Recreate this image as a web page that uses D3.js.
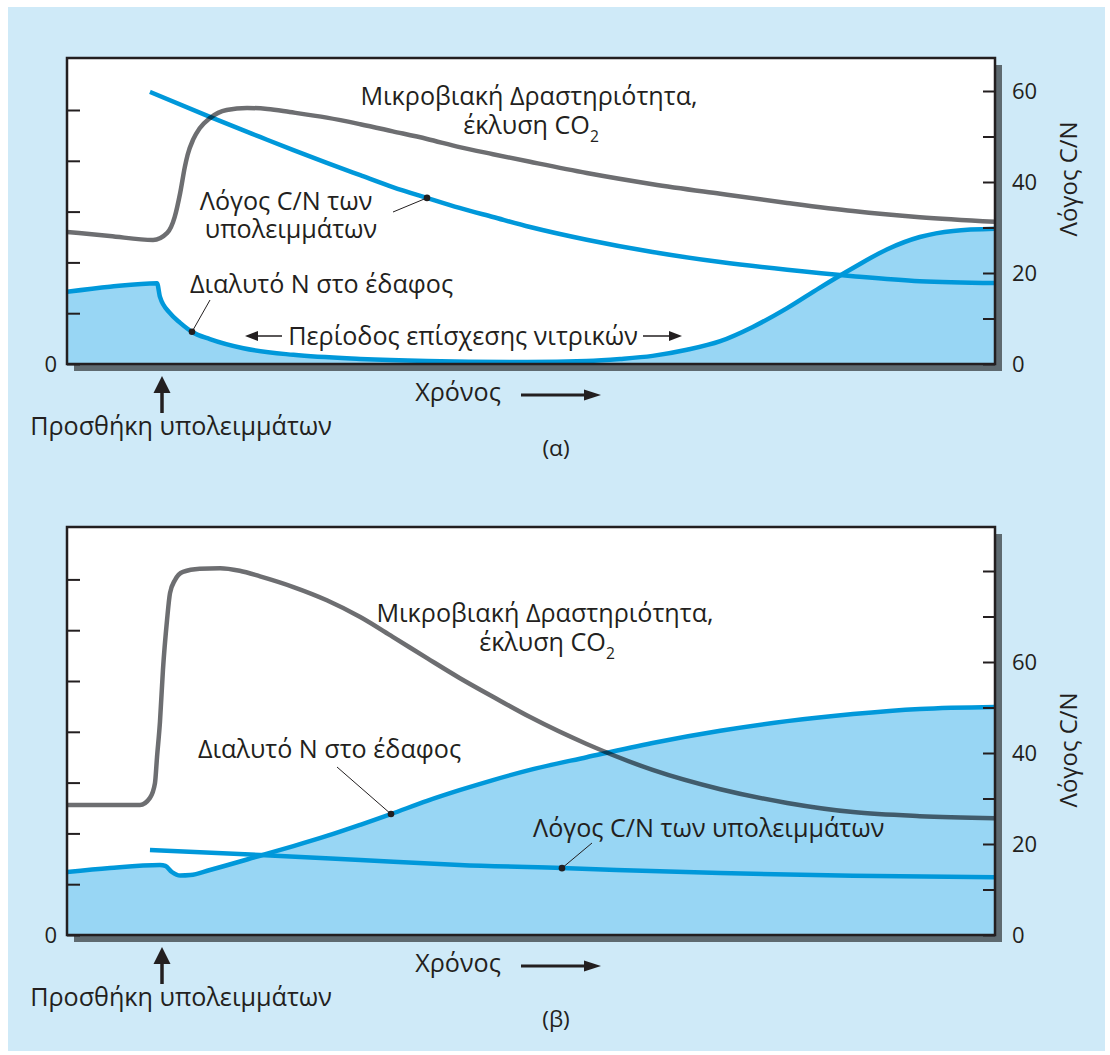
<!DOCTYPE html>
<html>
<head>
<meta charset="utf-8">
<script src="https://cdn.jsdelivr.net/npm/d3@7"></script>
<style>
  body { margin: 0; background: #fff; }
  svg text { font-family: "Open Sans", sans-serif; fill: #231f20; }
</style>
</head>
<body>
<svg id="chart" width="1110" height="1055"></svg>
<script>
// Time runs 0..100 across each plot. Left axis is unitless (activity, soluble N),
// right axis is the C/N ratio.

// ---- panel (α) ----
const activityTimeA = [0, 4.6, 9.27, 10.8, 11.6, 12.2, 12.7, 13.0, 13.6, 14.3, 15.4, 17.2, 19.4, 21.6, 24.0, 28.0, 31.6, 35.1, 38.8, 42.3, 45.9, 49.9, 56.0, 63.1, 70.4, 77.6, 84.7, 91.9, 100];
const activityA = [2.60, 2.52, 2.44, 2.58, 2.89, 3.37, 3.88, 4.12, 4.42, 4.64, 4.84, 5.00, 5.04, 5.02, 4.96, 4.85, 4.72, 4.58, 4.43, 4.27, 4.13, 3.98, 3.76, 3.54, 3.35, 3.17, 3.01, 2.89, 2.80];
const cnTimeA = [8.94, 15.4, 20.8, 24.4, 28.0, 31.6, 35.1, 38.8, 42.3, 45.9, 49.9, 56.0, 63.1, 70.4, 77.6, 84.7, 91.9, 100];
const cnA = [59.8, 54.3, 49.9, 47.0, 44.2, 41.5, 38.9, 36.5, 34.3, 32.3, 30.1, 27.3, 24.6, 22.4, 20.7, 19.3, 18.2, 17.8];
const nitrogenTimeA = [0, 4.63, 9.70, 10.02, 11.1, 12.2, 13.5, 15.4, 19.0, 24.4, 31.6, 38.8, 49.6, 56.0, 59.6, 63.1, 66.8, 70.4, 73.9, 77.6, 81.1, 84.7, 88.4, 91.9, 95.5, 100];
const nitrogenA = [1.42, 1.52, 1.59, 1.32, 1.00, 0.81, 0.63, 0.49, 0.31, 0.18, 0.10, 0.06, 0.04, 0.06, 0.10, 0.16, 0.28, 0.45, 0.73, 1.10, 1.50, 1.89, 2.26, 2.50, 2.62, 2.66];

// ---- panel (β) ----
const activityTimeB = [0, 7.87, 8.94, 9.48, 9.70, 10.02, 10.34, 10.78, 11.10, 11.64, 12.5, 14.3, 16.5, 18.6, 20.8, 24.4, 28.0, 31.6, 35.1, 38.8, 42.3, 45.9, 49.9, 56.0, 63.1, 70.4, 77.6, 84.7, 91.9, 100];
const activityB = [2.56, 2.56, 2.70, 2.99, 3.50, 4.20, 5.22, 6.20, 6.73, 6.99, 7.15, 7.21, 7.22, 7.17, 7.06, 6.85, 6.59, 6.26, 5.87, 5.45, 5.06, 4.69, 4.29, 3.76, 3.25, 2.87, 2.60, 2.42, 2.34, 2.30];
const cnTimeB = [8.94, 20.8, 31.6, 42.3, 53.3, 70.4, 84.7, 100];
const cnB = [18.7, 17.6, 16.5, 15.4, 14.7, 13.6, 13.0, 12.7];
const nitrogenTimeB = [0, 4.63, 10.02, 10.6, 11.3, 12.2, 13.3, 15.4, 20.8, 24.4, 28.0, 31.6, 34.9, 38.8, 42.3, 45.9, 49.9, 56.0, 63.1, 70.4, 77.6, 84.7, 91.9, 100];
const nitrogenB = [1.24, 1.32, 1.38, 1.36, 1.24, 1.17, 1.18, 1.28, 1.56, 1.75, 1.95, 2.17, 2.38, 2.64, 2.85, 3.05, 3.25, 3.50, 3.78, 4.02, 4.21, 4.35, 4.45, 4.49];

// ticks
const leftTicksA = [0, 1, 2, 3, 4, 5];
const leftTicksB = [0, 1, 2, 3, 4, 5, 6, 7];
const rightTicksA = [0, 10, 20, 30, 40, 50, 60];
const rightTicksB = [0, 10, 20, 30, 40, 50, 60, 70, 80];
const rightLabels = [0, 20, 40, 60];

const colors = {
  bg: "#cfeaf8",
  fill: "#98d6f4",
  blue: "#0098da",
  gray: "#6d6e71",
  shadow: "#5e6a70",
  ink: "#231f20"
};

const svg = d3.select("#chart");

// outer light blue background
svg.append("rect")
  .attr("x", 8).attr("y", 7)
  .attr("width", 1097).attr("height", 1044)
  .attr("fill", colors.bg);

// pick one font size for all annotations from a reference label width
const probe = svg.append("text").attr("font-size", 100).text("Προσθήκη υπολειμμάτων");
const fontSize = 100 * 302 / probe.node().getComputedTextLength();
probe.remove();

const zip = (ts, vs) => ts.map((t, i) => ({ t, v: vs[i] }));

// find the point on a path at a given x
function pointAtX(node, x) {
  let lo = 0, hi = node.getTotalLength();
  for (let i = 0; i < 40; i++) {
    const mid = (lo + hi) / 2;
    if (node.getPointAtLength(mid).x < x) lo = mid; else hi = mid;
  }
  return node.getPointAtLength(lo);
}

// filled triangle arrow from (x1,y1) to (x2,y2)
function arrow(g, x1, y1, x2, y2, headLen, headW, width) {
  const a = Math.atan2(y2 - y1, x2 - x1);
  const bx = x2 - headLen * Math.cos(a), by = y2 - headLen * Math.sin(a);
  g.append("line")
    .attr("x1", x1).attr("y1", y1).attr("x2", bx).attr("y2", by)
    .attr("stroke", colors.ink).attr("stroke-width", width);
  const px = Math.sin(a) * headW / 2, py = -Math.cos(a) * headW / 2;
  g.append("path")
    .attr("d", `M${x2},${y2}L${bx + px},${by + py}L${bx - px},${by - py}Z`)
    .attr("fill", colors.ink);
}

function label(g, x, y, str, anchor) {
  return g.append("text")
    .attr("x", x).attr("y", y)
    .attr("text-anchor", anchor || "start")
    .attr("font-size", fontSize)
    .text(str);
}

function co2Label(g, x, y, anchor) {
  const t = g.append("text")
    .attr("x", x).attr("y", y)
    .attr("text-anchor", anchor)
    .attr("font-size", fontSize);
  t.append("tspan").text("έκλυση CO");
  t.append("tspan").attr("font-size", fontSize * 0.62).attr("dy", 8).text("2");
}

function drawPanel(cfg, id) {
  const left = 67, right = 995;
  const { top, bottom } = cfg;

  const x = d3.scaleLinear().domain([0, 100]).range([left, right]);
  const yLeft = d3.scaleLinear().domain([0, (bottom - top) / 50.8]).range([bottom, top]);
  const yRight = d3.scaleLinear().domain([0, (bottom - top) / 4.55]).range([bottom, top]);

  const g = svg.append("g");

  // drop shadow + white plot
  g.append("rect")
    .attr("x", left + 7).attr("y", top + 7)
    .attr("width", right - left).attr("height", bottom - top)
    .attr("fill", colors.shadow);
  g.append("rect")
    .attr("x", left).attr("y", top)
    .attr("width", right - left).attr("height", bottom - top)
    .attr("fill", "#fff");

  svg.append("clipPath").attr("id", "clip" + id)
    .append("rect")
    .attr("x", left).attr("y", top)
    .attr("width", right - left).attr("height", bottom - top);

  const plot = g.append("g").attr("clip-path", `url(#clip${id})`);

  const nData = zip(cfg.nitrogenTime, cfg.nitrogen);
  const cnData = zip(cfg.cnTime, cfg.cn);
  const actData = zip(cfg.activityTime, cfg.activity);

  const curve = d3.curveMonotoneX;
  const area = d3.area()
    .x(d => x(d.t)).y0(bottom).y1(d => yLeft(d.v))
    .curve(curve);
  const lineLeft = d3.line()
    .x(d => x(d.t)).y(d => yLeft(d.v))
    .curve(curve);
  const lineRight = d3.line()
    .x(d => x(d.t)).y(d => yRight(d.v))
    .curve(curve);

  plot.append("path").attr("d", area(nData)).attr("fill", colors.fill);
  const nPath = plot.append("path")
    .attr("d", lineLeft(nData))
    .attr("fill", "none").attr("stroke", colors.blue).attr("stroke-width", 4.5);
  const cnPath = plot.append("path")
    .attr("d", lineRight(cnData))
    .attr("fill", "none").attr("stroke", colors.blue).attr("stroke-width", 4.5)
    .attr("stroke-linecap", "butt");
  plot.append("path")
    .attr("d", lineLeft(actData))
    .attr("fill", "none").attr("stroke", colors.gray).attr("stroke-width", 4.5)
    .style("mix-blend-mode", "multiply");

  // border
  g.append("rect")
    .attr("x", left).attr("y", top)
    .attr("width", right - left).attr("height", bottom - top)
    .attr("fill", "none").attr("stroke", colors.ink).attr("stroke-width", 2.5);

  // axes, ticks pointing into the plot
  const leftAxis = d3.axisLeft(yLeft)
    .tickValues(cfg.leftTicks).tickSizeInner(-13).tickSizeOuter(0).tickPadding(10)
    .tickFormat(d => d === 0 ? "0" : "");
  const rightAxis = d3.axisRight(yRight)
    .tickValues(cfg.rightTicks).tickSizeInner(-12).tickSizeOuter(0).tickPadding(17)
    .tickFormat(d => rightLabels.includes(d) ? String(d) : "");

  [g.append("g").attr("transform", `translate(${left},0)`).call(leftAxis),
   g.append("g").attr("transform", `translate(${right},0)`).call(rightAxis)]
    .forEach(ax => {
      ax.select(".domain").remove();
      ax.selectAll("line").attr("stroke", colors.ink).attr("stroke-width", 2);
      ax.selectAll("text")
        .attr("font-size", 22).attr("font-family", "Open Sans, sans-serif")
        .attr("fill", colors.ink);
    });

  g.append("text")
    .attr("transform", `translate(1077,${(top + bottom) / 2 + cfg.yLabelShift}) rotate(-90)`)
    .attr("text-anchor", "middle")
    .attr("font-size", fontSize * 0.95)
    .text("Λόγος C/N");

  // annotations
  const ann = cfg.ann;
  label(g, ann.act[0], ann.act[1], "Μικροβιακή Δραστηριότητα,", "middle");
  co2Label(g, ann.act[0] + 2, ann.act[1] + 29, "middle");

  if (cfg.cnTwoLines) {
    label(g, ann.cn[0], ann.cn[1], "Λόγος C/N των", "middle");
    label(g, ann.cn[0] + 5, ann.cn[1] + 28, "υπολειμμάτων", "middle");
  } else {
    label(g, ann.cn[0], ann.cn[1], "Λόγος C/N των υπολειμμάτων", "start");
  }
  label(g, ann.n[0], ann.n[1], "Διαλυτό Ν στο έδαφος", "start");

  // leader lines with dots
  [[nPath, ann.nLead], [cnPath, ann.cnLead]].forEach(([p, lead]) => {
    const pt = pointAtX(p.node(), lead[2]);
    g.append("line")
      .attr("x1", lead[0]).attr("y1", lead[1]).attr("x2", pt.x).attr("y2", pt.y)
      .attr("stroke", colors.ink).attr("stroke-width", 1);
    g.append("circle").attr("cx", pt.x).attr("cy", pt.y).attr("r", 3.3).attr("fill", colors.ink);
  });

  // time arrow
  label(g, 458, bottom + 37, "Χρόνος", "middle");
  arrow(g, 521, bottom + 31, 601, bottom + 31, 17, 11, 3);

  // residue addition arrow
  arrow(g, 162, bottom + 49, 162, bottom + 12, 17, 17, 3.5);
  label(g, 181, bottom + 71, "Προσθήκη υπολειμμάτων", "middle");

  g.append("text")
    .attr("x", 556).attr("y", bottom + 92)
    .attr("text-anchor", "middle")
    .attr("font-size", fontSize * 0.9)
    .text(cfg.name);

  if (cfg.period) {
    label(g, 463, 345, "Περίοδος επίσχεσης νιτρικών", "middle");
    arrow(g, 282, 336, 245, 336, 13, 10, 1.5);
    arrow(g, 643, 336, 682, 336, 13, 10, 1.5);
  }
}

drawPanel({
  top: 58, bottom: 364, name: "(α)",
  activityTime: activityTimeA, activity: activityA,
  cnTime: cnTimeA, cn: cnA,
  nitrogenTime: nitrogenTimeA, nitrogen: nitrogenA,
  leftTicks: leftTicksA, rightTicks: rightTicksA,
  yLabelShift: -32,
  cnTwoLines: true, period: true,
  ann: {
    act: [529, 105],
    cn: [286, 210],
    n: [190, 293],
    nLead: [210, 300, 192],
    cnLead: [393, 212, 427]
  }
}, "a");

drawPanel({
  top: 527, bottom: 935, name: "(β)",
  activityTime: activityTimeB, activity: activityB,
  cnTime: cnTimeB, cn: cnB,
  nitrogenTime: nitrogenTimeB, nitrogen: nitrogenB,
  leftTicks: leftTicksB, rightTicks: rightTicksB,
  yLabelShift: 19,
  cnTwoLines: false, period: false,
  ann: {
    act: [545, 622],
    cn: [533, 837],
    n: [198, 758],
    nLead: [337, 767, 391],
    cnLead: [592, 843, 562]
  }
}, "b");
</script>
</body>
</html>
